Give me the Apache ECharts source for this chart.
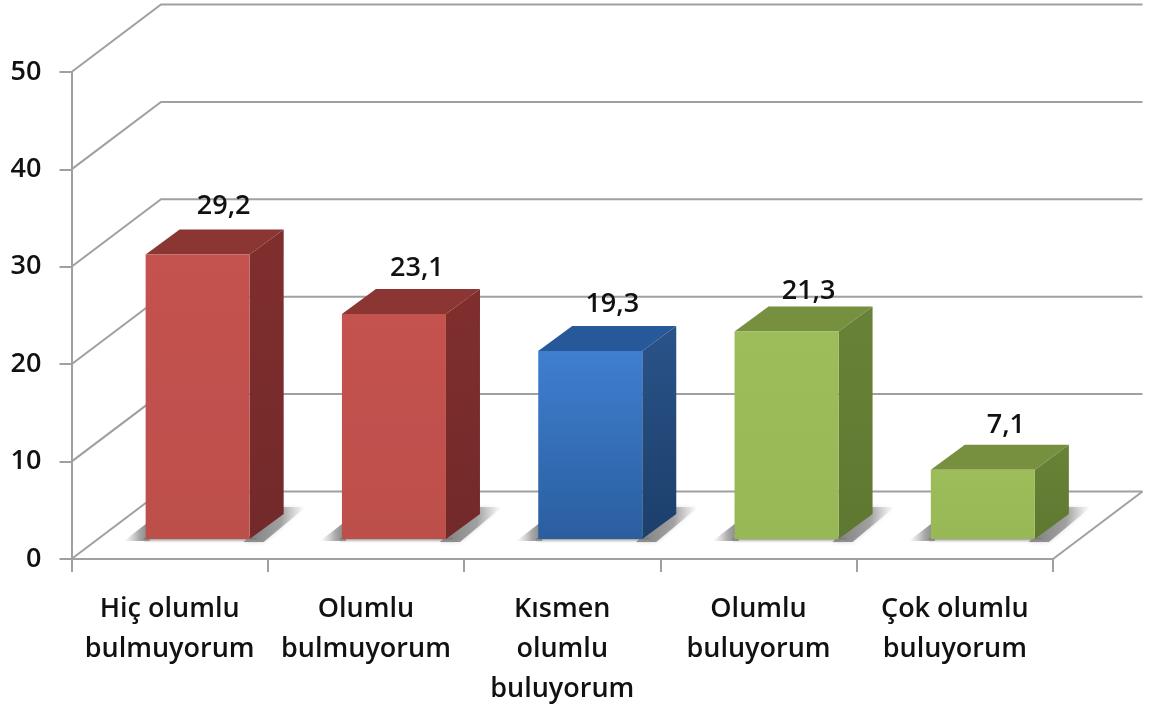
<!DOCTYPE html>
<html>
<head>
<meta charset="utf-8">
<style>
html,body{margin:0;padding:0;background:#fff}
#c{width:1149px;height:709px;filter:blur(0.7px)}
</style>
<script src="https://cdn.jsdelivr.net/npm/echarts@6/dist/echarts.min.js"></script>
</head>
<body>
<div id="c"></div>
<script>
const categories = ['Hiç olumlu\nbulmuyorum', 'Olumlu\nbulmuyorum', 'Kısmen\nolumlu\nbuluyorum', 'Olumlu\nbuluyorum', 'Çok olumlu\nbuluyorum'];
const values = [29.2, 23.1, 19.3, 21.3, 7.1];
const valueTicks = [0, 10, 20, 30, 40, 50];
const tones = ['red', 'red', 'blue', 'green', 'green'];

const palette = {
  red:   {front: ['#c4524f', '#bd4f4b'], top: '#8c3633', side: ['#7f2f2d', '#73292a']},
  blue:  {front: ['#3f7fd0', '#2a5e9f'], top: '#27599a', side: ['#2a5389', '#1c3f6b']},
  green: {front: ['#9dbd5a', '#98b855'], top: '#76903f', side: ['#688337', '#5f7831']}
};
const FONT = '600 27px "Open Sans", sans-serif';
const WALL = {dx: 89.5, dy: -67.5};
const GAP = {dx: 28, dy: -20};
const DEPTH = {dx: 34, dy: -25};
const GRID_COLOR = '#a0a0a0';
// hand-placed data label nudges seen in the reference, relative to each bar's back-top centre
const LABEL_NUDGE = [[26, -23], [23, -21], [22, -22], [22, -15], [23, -20]];

function vGrad(a, b) {
  return new echarts.graphic.LinearGradient(0, 0, 0, 1, [{offset: 0, color: a}, {offset: 1, color: b}]);
}
function fade(a, mid, b) {
  return new echarts.graphic.LinearGradient(0, 0, 1, 0, [
    {offset: 0, color: a}, {offset: 0.6, color: mid}, {offset: 1, color: b}
  ]);
}

function renderGrid(params, api) {
  const cs = params.coordSys;
  const y = api.coord([0, api.value(1)])[1];
  const x0 = cs.x, x1 = cs.x + cs.width;
  const lineStyle = {stroke: GRID_COLOR, lineWidth: 2, fill: null};
  const children = [{
    type: 'polyline',
    shape: {points: [[x0, y], [x0 + WALL.dx, y + WALL.dy], [x1 + WALL.dx, y + WALL.dy]]},
    style: lineStyle
  }];
  if (api.value(1) === 0) {
    children.push({
      type: 'line',
      shape: {x1: x1, y1: y, x2: x1 + WALL.dx, y2: y + WALL.dy},
      style: lineStyle
    });
  }
  return {type: 'group', children: children};
}

function renderBar(params, api) {
  const idx = api.value(0);
  const v = api.value(1);
  const c = palette[tones[idx]];
  const top = api.coord([idx, v]);
  const base = api.coord([idx, 0]);
  const w = api.size([1, 0])[0] * 0.53;
  const l = top[0] + GAP.dx - w / 2, r = l + w;
  const t = top[1] + GAP.dy, b = base[1] + GAP.dy;
  const d = DEPTH;
  const n = LABEL_NUDGE[idx];
  return {
    type: 'group',
    children: [
      {type: 'polygon', shape: {points: [[l - 22, b + 2], [l + 4, b - 18], [l + 4, b + 2]]},
        style: {fill: fade('rgba(170,170,170,0)', 'rgba(140,140,140,0.75)', 'rgba(120,120,120,0.95)')}},
      {type: 'polygon', shape: {points: [[r - 6, b + 3], [r + d.dx - 4, b - 32], [r + d.dx + 22, b - 32], [r + 14, b + 3]]},
        style: {
          fill: fade('rgba(120,120,120,0.95)', 'rgba(145,145,145,0.8)', 'rgba(190,190,190,0)'),
          shadowBlur: 4, shadowColor: 'rgba(170,170,170,0.5)'
        }},
      {type: 'rect', shape: {x: l - 2, y: b - 1, width: w + 9, height: 5},
        style: {fill: vGrad('rgba(110,110,110,0.95)', 'rgba(190,190,190,0)')}},
      {type: 'polygon', shape: {points: [[l, t], [l + d.dx, t + d.dy], [r + d.dx, t + d.dy], [r, t]]},
        style: {fill: c.top}},
      {type: 'polygon', shape: {points: [[r, t], [r + d.dx, t + d.dy], [r + d.dx, b + d.dy], [r, b]]},
        style: {fill: vGrad(c.side[0], c.side[1])}},
      {type: 'rect', shape: {x: l, y: t, width: w, height: b - t},
        style: {fill: vGrad(c.front[0], c.front[1])}},
      {type: 'text', style: {
        text: String(v).replace('.', ','),
        x: l + w / 2 + n[0], y: t + d.dy + n[1],
        align: 'center', verticalAlign: 'middle',
        font: FONT, fill: '#111'
      }}
    ]
  };
}

const chart = echarts.init(document.getElementById('c'), null, {renderer: 'canvas'});
chart.setOption({
  animation: false,
  backgroundColor: '#fff',
  grid: {left: 71.5, right: 96, top: 72, bottom: 150},
  xAxis: {
    type: 'category',
    data: categories,
    axisLine: {lineStyle: {color: GRID_COLOR, width: 2}},
    axisTick: {show: true, length: 13, lineStyle: {color: GRID_COLOR, width: 2}},
    axisLabel: {
      interval: 0, margin: 30, color: '#111',
      fontFamily: '"Open Sans", sans-serif', fontSize: 27, fontWeight: 600, lineHeight: 40
    }
  },
  yAxis: {
    type: 'value', min: 0, max: 50, interval: 10,
    axisLine: {show: true, lineStyle: {color: GRID_COLOR, width: 2}},
    axisTick: {show: true, length: 12, lineStyle: {color: GRID_COLOR, width: 2}},
    splitLine: {show: false},
    axisLabel: {
      margin: 30, color: '#111', padding: [3, 0, 0, 0],
      fontFamily: '"Open Sans", sans-serif', fontSize: 27, fontWeight: 600
    }
  },
  series: [
    {type: 'custom', z: 1, renderItem: renderGrid, encode: {x: 0, y: 1},
      data: valueTicks.map(function (t) { return [0, t]; }), silent: true},
    {type: 'custom', z: 3, renderItem: renderBar, encode: {x: 0, y: 1},
      data: values.map(function (v, i) { return [i, v]; })}
  ]
});
</script>
</body>
</html>
